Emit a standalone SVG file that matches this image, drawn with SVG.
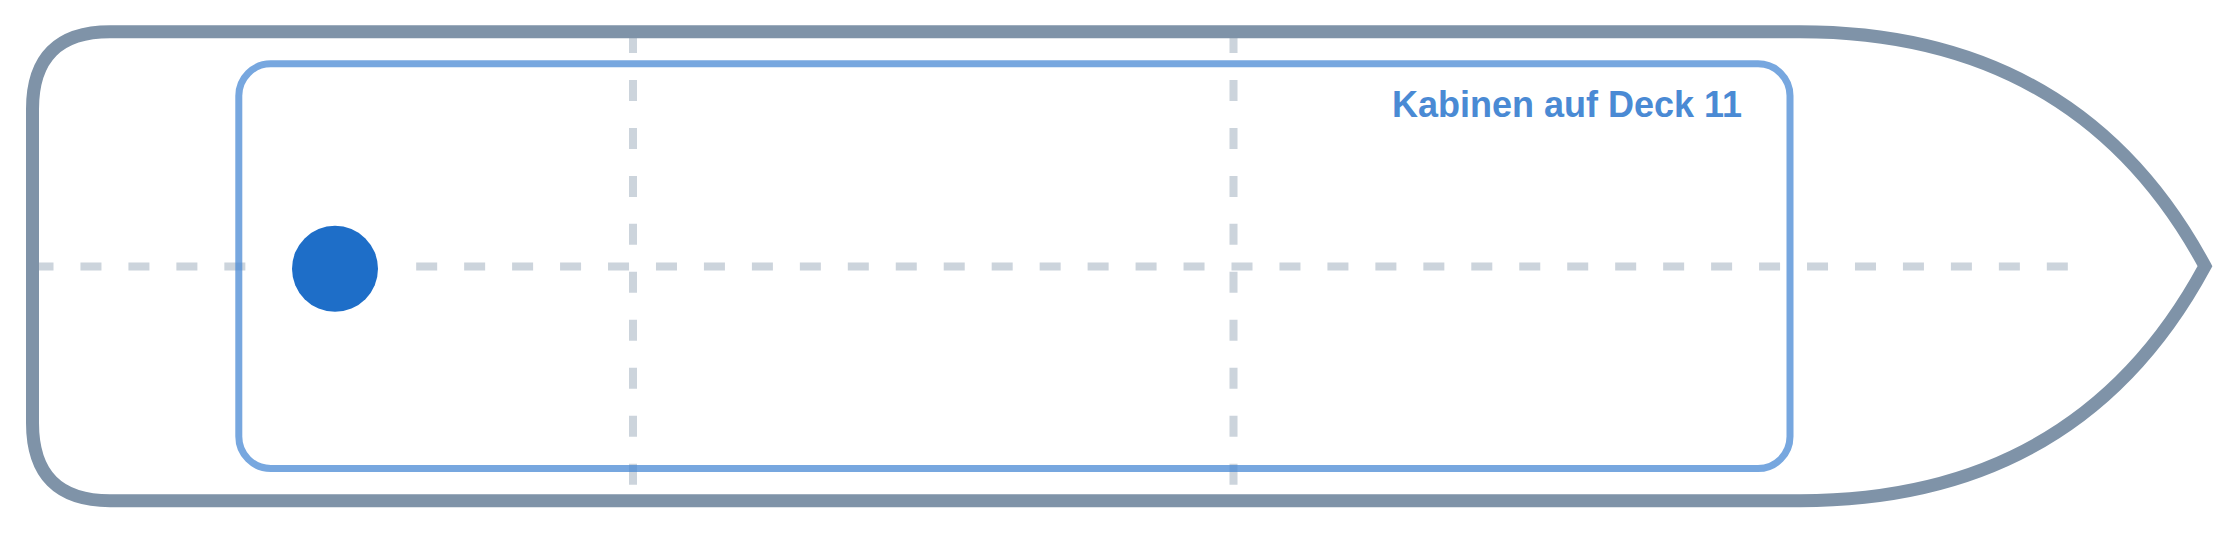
<svg xmlns="http://www.w3.org/2000/svg" width="2240" height="533" viewBox="0 0 2240 533">
  <defs>
    <style>
      .guide { fill: none; stroke: #7f93a8; stroke-opacity: 0.4; stroke-width: 8; stroke-dasharray: 21 26.96; }
      .hull { fill: none; stroke: #7f93a8; stroke-width: 13; stroke-linejoin: miter; }
      .cabin { fill: none; stroke: #4a8ad4; stroke-opacity: 0.75; stroke-width: 7; }
      .label { font-family: "Liberation Sans", Arial, sans-serif; font-weight: bold; font-size: 36px; fill: #4a8ad4; }
      .node { fill: #1e6ec8; }
    </style>
  </defs>
  <rect width="2240" height="533" fill="#ffffff"/>
  <g id="connectors">
    <line class="guide" x1="32.5" y1="266.5" x2="2070" y2="266.5"/>
    <line class="guide" x1="633" y1="32" x2="633" y2="500.7"/>
    <line class="guide" x1="1233.5" y1="32" x2="1233.5" y2="500.7"/>
  </g>
  <g id="cabins">
    <rect class="cabin" x="238.8" y="63.8" width="1551.2" height="404.7" rx="32" ry="32"/>
    <text class="label" x="1392" y="116.5">Kabinen auf Deck 11</text>
  </g>
  <g id="node">
    <circle cx="335" cy="268.8" r="68" fill="#ffffff"/>
    <circle class="node" cx="335" cy="268.8" r="43"/>
  </g>
  <g id="hull">
    <path class="hull" d="M 110 31.7 L 1800 31.7 C 1960 31.7 2110 90 2205 266.2 C 2110 442.4 1960 500.7 1800 500.7 L 110 500.7 Q 32.5 500.7 32.5 423 L 32.5 109 Q 32.5 31.7 110 31.7 Z"/>
  </g>
</svg>
